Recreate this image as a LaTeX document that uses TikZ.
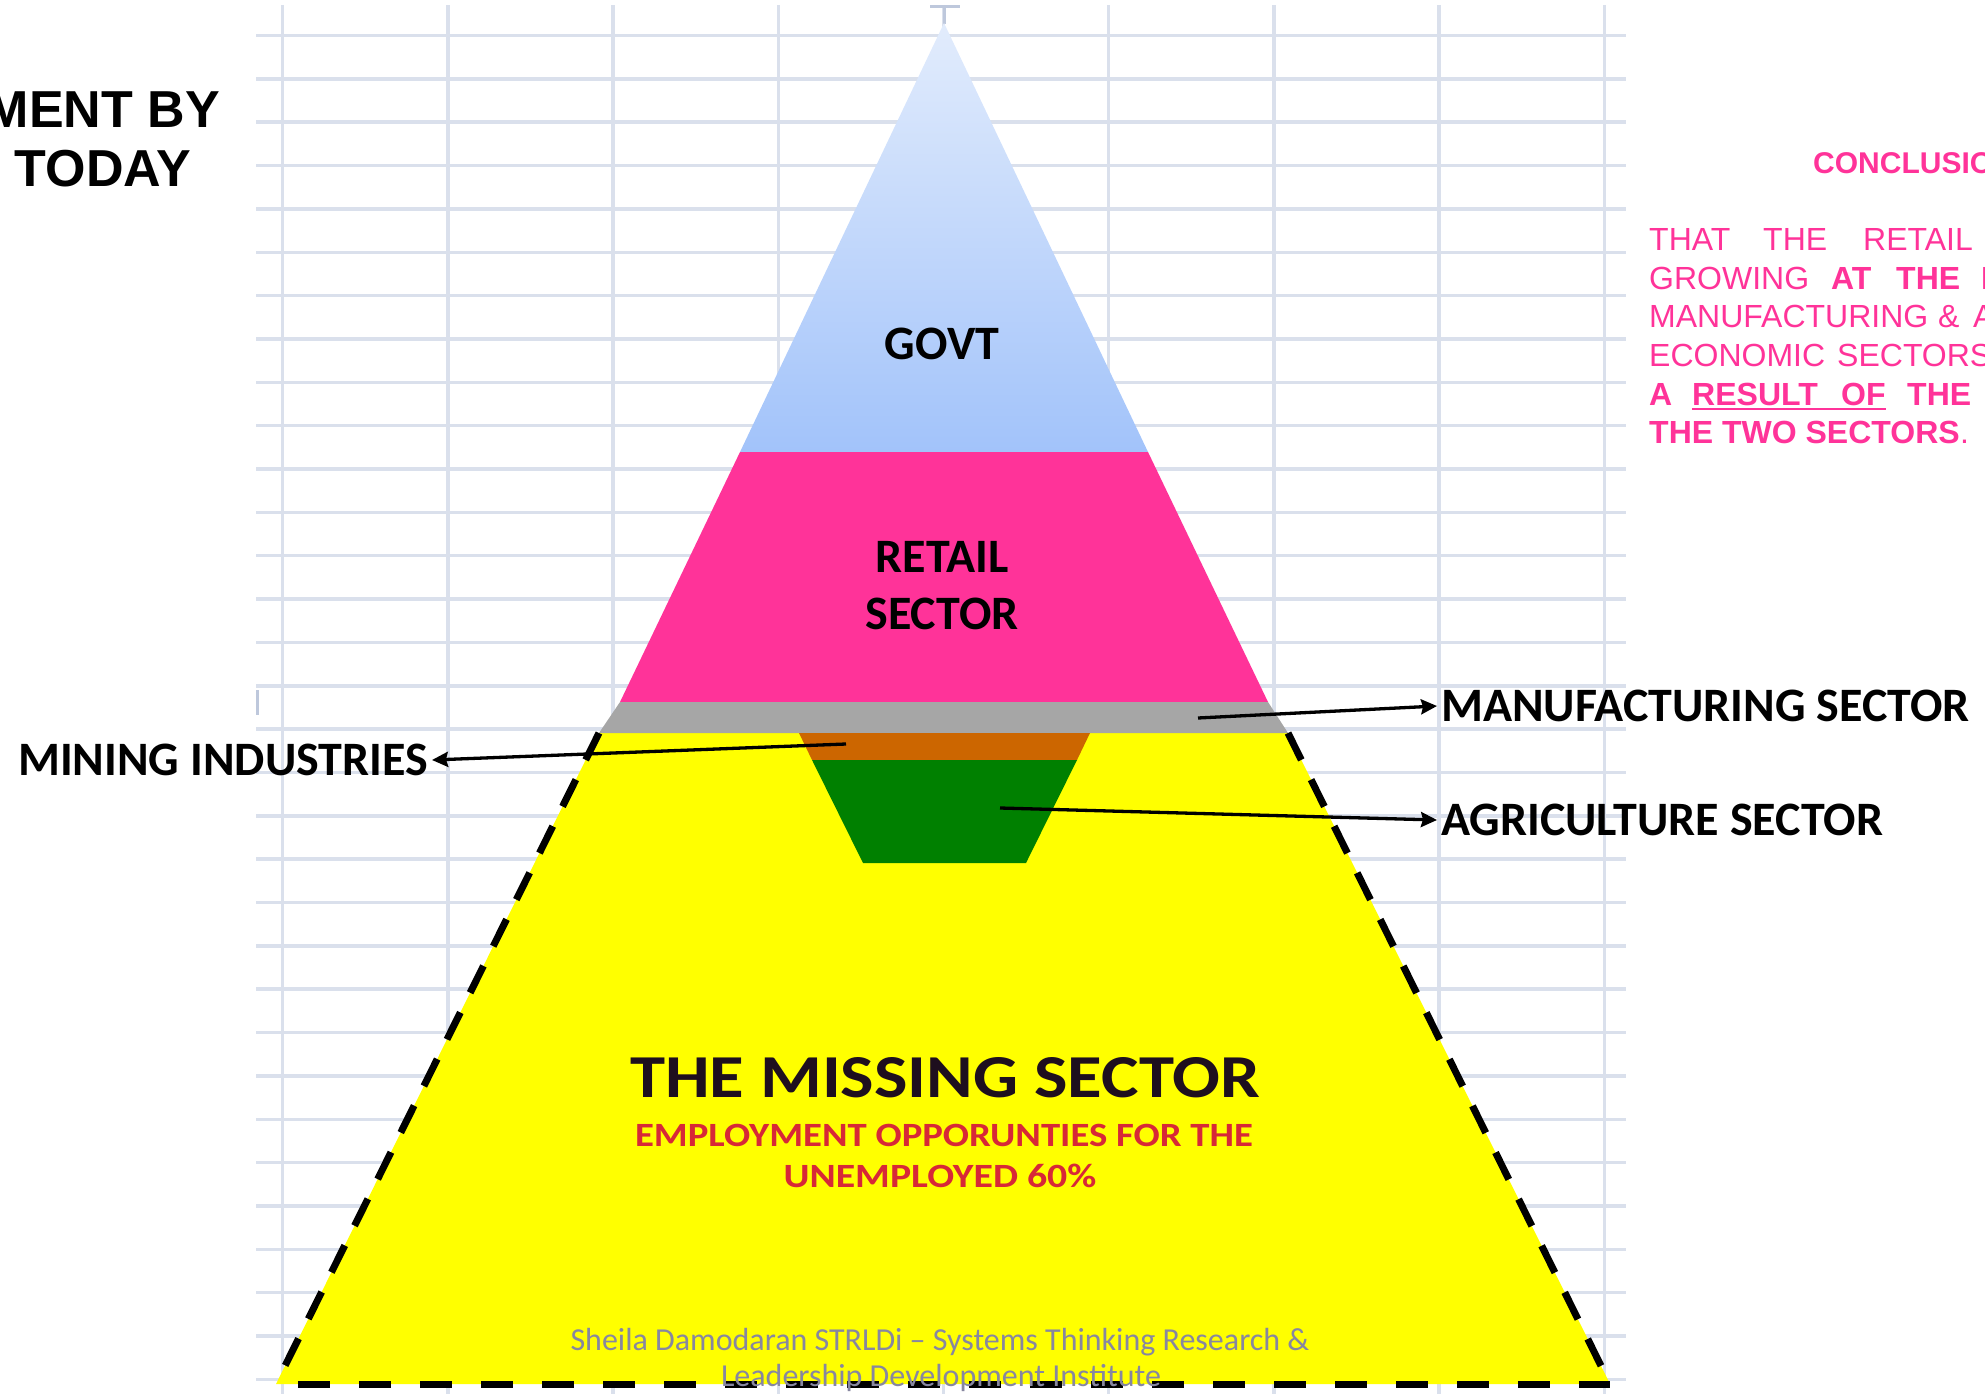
\documentclass[tikz,border=0pt]{standalone}
\usepackage{fontspec}
\usepackage{graphicx}
\setmainfont{Liberation Sans}
\newfontfamily\calib{Carlito}
\usetikzlibrary{calc,arrows.meta}
\definecolor{gridc}{RGB}{218,224,236}
\definecolor{gridd}{RGB}{190,200,220}
\definecolor{pinkc}{RGB}{255,51,153}
\definecolor{grayc}{RGB}{166,166,166}
\definecolor{orangec}{RGB}{204,102,0}
\definecolor{greenc}{RGB}{0,128,0}
\definecolor{yellowc}{RGB}{255,255,0}
\definecolor{govtop}{RGB}{226,236,252}
\definecolor{govbot}{RGB}{162,195,250}
\definecolor{footc}{RGB}{135,135,160}
\definecolor{redc}{RGB}{215,40,55}
\definecolor{darkc}{RGB}{30,15,30}
\begin{document}
\begin{tikzpicture}[x=1pt,y=-1pt,
  gridline/.style={gridc, line width=3.5},
  lbl/.style={font=\calib\bfseries\fontsize{48}{54}\selectfont, inner sep=4pt},
  arr/.style={line width=3.3, -{Stealth[length=16pt,width=15pt,inset=2pt]}},
  dashside/.style={line width=7, dash pattern=on 30pt off 22pt},
  dashbase/.style={line width=7, dash pattern=on 32pt off 29pt},
  pr/.style={anchor=base west, inner sep=0, text=pinkc, font=\fontsize{32}{38}\selectfont},
  pb/.style={anchor=base west, inner sep=0, text=pinkc, font=\bfseries\fontsize{32}{38}\selectfont},
  ttl/.style={inner sep=0, font=\bfseries\fontsize{52}{60}\selectfont},
  foot/.style={anchor=base, inner sep=0, text=footc, font=\calib\fontsize{32}{36}\selectfont}]
\useasboundingbox (0,0) rectangle (1985,1394);
% grid
\foreach \k in {0,...,31} \draw[gridline] (256,{35.5+43.35*\k}) -- (1626,{35.5+43.35*\k});
\foreach \j in {0,...,8} \draw[gridline] ({282.7+165.2*\j},5) -- ({282.7+165.2*\j},1394);
\draw[gridd, line width=3] (257,690) -- (257,715);
\draw[gridd, line width=3] (944,6) -- (944,24);
\draw[gridd, line width=3] (930,7) -- (960,7);
% pyramid
\shade[top color=govtop, bottom color=govbot] (944,23) -- (1148,452) -- (740,452) -- cycle;
\fill[pinkc] (740,452) -- (1148,452) -- (1268,702) -- (620,702) -- cycle;
\fill[yellowc] (599,733) -- (1288,733) -- (1610,1384) -- (276,1384) -- cycle;
\fill[grayc] (620,702) -- (1268,702) -- (1288,733) -- (599,733) -- cycle;
\fill[orangec] (799,733) -- (1090,733) -- (1077,760) -- (812,760) -- cycle;
\fill[greenc] (812,760) -- (1077,760) -- (1026,863) -- (863,863) -- cycle;
\draw[dashside] (599,733) -- (276,1384);
\draw[dashbase] (298,1384) -- (1610,1384);
\draw[dashside] (1288,733) -- (1610,1384);
% labels in pyramid
\node[lbl] (govt) at (942,344) {GOVT};
\node[lbl] (retail1) at (942,557) {RETAIL};
\node[lbl] (retail2) at (942,614) {SECTOR};
\node[inner sep=0, anchor=base, text=darkc, font=\calib\bfseries\fontsize{61}{70}\selectfont] (missing) at (945,1097) {\scalebox{1.16}[1]{THE MISSING SECTOR}};
\node[inner sep=0, anchor=base, text=redc, font=\calib\bfseries\fontsize{34}{40}\selectfont] (emp1) at (944,1146) {\scalebox{1.14}[1]{EMPLOYMENT OPPORUNTIES FOR THE}};
\node[inner sep=0, anchor=base, text=redc, font=\calib\bfseries\fontsize{34}{40}\selectfont] (emp2) at (940,1187) {\scalebox{1.17}[1]{UNEMPLOYED 60\%}};
% side labels and arrows
\node[lbl, anchor=west] (mfg) at (1437,706) {MANUFACTURING SECTOR};
\node[lbl, anchor=west] (agri) at (1437,820) {AGRICULTURE SECTOR};
\node[lbl, anchor=east] (mining) at (432,760) {MINING INDUSTRIES};
\coordinate (mfgsrc) at (1198,718);
\coordinate (minsrc) at (846,744);
\coordinate (agrisrc) at (1000,808);
\draw[arr] (mfgsrc) -- (mfg.west);
\draw[arr] (minsrc) -- (mining.east);
\draw[arr] (agrisrc) -- (agri.west);
% title
\node[ttl, anchor=base east] (title1) at (220,128) {MENT BY};
\node[ttl, anchor=base] (title2) at (103,186) {TODAY};
% conclusion
\node[inner sep=0, anchor=base west, text=pinkc, font=\bfseries\fontsize{30}{36}\selectfont] (concl) at (1813,173) {CONCLUSIO};
\node[pr] (p1a) at (1649,250) {THAT};
\node[pr] (p1b) at (1763,250) {THE};
\node[pr] (p1c) at (1863,250) {RETAIL};
\node[pr] (p2a) at (1649,289) {GROWING};
\node[pb] (p2b) at (1831,289) {AT};
\node[pb] (p2c) at (1896,289) {THE};
\node[pb] (p2d) at (1981,289) {E};
\node[pr] (p3a) at (1649,327) {MANUFACTURING};
\node[pr] (p3b) at (1938,327) {\&};
\node[pr] (p3c) at (1973,327) {A};
\node[pr] (p4a) at (1649,366) {ECONOMIC};
\node[pr] (p4b) at (1837,366) {SECTORS};
\node[pb] (p5a) at (1649,405) {A};
\node[pb] (p5b) at (1692,405) {RESULT};
\node[pb] (p5c) at (1841,405) {OF};
\node[pb] (p5d) at (1907,405) {THE};
\draw[pinkc, line width=2.6] ($(p5b.base west)+(0,4)$) -- ($(p5c.base east)+(0,4)$);
\node[pb] (p6a) at (1649,443) {THE TWO SECTORS};
\node[pr] (p6b) at (p6a.base east) {.};
% footer
\node[foot] (foot1) at (940,1350) {Sheila Damodaran STRLDi – Systems Thinking Research \&};
\node[foot] (foot2) at (941,1386) {Leadership Development Institute};
\end{tikzpicture}
\end{document}
